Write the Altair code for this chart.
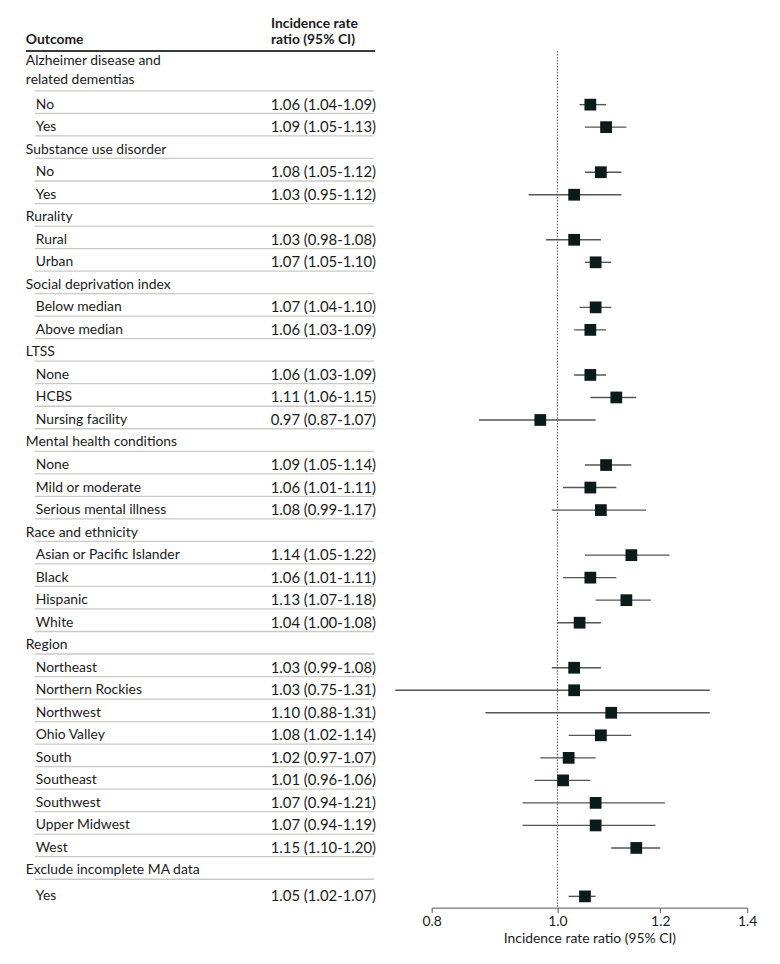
import altair as alt
import pandas as pd

# ---------------- data ----------------
row_labels = [
    "Alzheimer disease and\nrelated dementias", "No", "Yes",
    "Substance use disorder", "No", "Yes",
    "Rurality", "Rural", "Urban",
    "Social deprivation index", "Below median", "Above median",
    "LTSS", "None", "HCBS", "Nursing facility",
    "Mental health conditions", "None", "Mild or moderate", "Serious mental illness",
    "Race and ethnicity", "Asian or Pacific Islander", "Black", "Hispanic", "White",
    "Region", "Northeast", "Northern Rockies", "Northwest", "Ohio Valley", "South",
    "Southeast", "Southwest", "Upper Midwest", "West",
    "Exclude incomplete MA data", "Yes",
]
row_is_group = [
    True, False, False,
    True, False, False,
    True, False, False,
    True, False, False,
    True, False, False, False,
    True, False, False, False,
    True, False, False, False, False,
    True, False, False, False, False, False, False, False, False, False,
    True, False,
]
irr = [
    None, 1.06, 1.09,
    None, 1.08, 1.03,
    None, 1.03, 1.07,
    None, 1.07, 1.06,
    None, 1.06, 1.11, 0.97,
    None, 1.09, 1.06, 1.08,
    None, 1.14, 1.06, 1.13, 1.04,
    None, 1.03, 1.03, 1.10, 1.08, 1.02, 1.01, 1.07, 1.07, 1.15,
    None, 1.05,
]
ci_low = [
    None, 1.04, 1.05,
    None, 1.05, 0.95,
    None, 0.98, 1.05,
    None, 1.04, 1.03,
    None, 1.03, 1.06, 0.87,
    None, 1.05, 1.01, 0.99,
    None, 1.05, 1.01, 1.07, 1.00,
    None, 0.99, 0.75, 0.88, 1.02, 0.97, 0.96, 0.94, 0.94, 1.10,
    None, 1.02,
]
ci_high = [
    None, 1.09, 1.13,
    None, 1.12, 1.12,
    None, 1.08, 1.10,
    None, 1.10, 1.09,
    None, 1.09, 1.15, 1.07,
    None, 1.14, 1.11, 1.17,
    None, 1.22, 1.11, 1.18, 1.08,
    None, 1.08, 1.31, 1.31, 1.14, 1.07, 1.06, 1.21, 1.19, 1.20,
    None, 1.07,
]
x_ticks = [0.8, 1.0, 1.2, 1.4]
x_domain = [0.8, 1.4]
reference_value = 1.0
col_header_outcome = "Outcome"
col_header_irr = "Incidence rate\nratio (95% CI)"
x_title = "Incidence rate ratio (95% CI)"

# ---------------- layout ----------------
FONT = "Lato"
FS = 14
FS_VAL = 15
ROW_PX = 22.7
W, H = 770, 903
Y_DOMAIN = [-4.128, 35.65]
X_GROUP, X_ITEM, X_VALUE = 18, 28, 371
SEP_X1, SEP_X2 = 27, 369
HDR_X1, HDR_X2, HDR_IRR_X = 18, 370, 265
PLOT_RANGE = [427, 745]
HDR_LINE_Y, HDR_OUTCOME_Y, HDR_IRR_Y = -2.38, -2.85, -3.60
GROUP_LH, HDR_LH = 19, 17
SEP_OFFSET = 0.39
LAST_ROW_EXTRA = 0.15
TEXT_COLOR = "#1b1b1b"

# build table
rows = []
start = -2
n_rows = len(row_labels)
for k, (lab, grp, e, lo, hi) in enumerate(zip(row_labels, row_is_group, irr, ci_low, ci_high)):
    span = lab.count("\n") + 1
    if k == n_rows - 1:
        start += LAST_ROW_EXTRA
    pos = start + (span - 1) / 2
    rows.append(dict(
        label=lab, kind="group" if grp else "item", pos=pos,
        text_pos=pos - (span - 1) / 2 * GROUP_LH / ROW_PX,
        line_pos=pos + (span - 1) / 2 + SEP_OFFSET,
        est=e, lo=lo, hi=hi,
        txt=(f"{e:.2f} ({lo:.2f}-{hi:.2f})" if e is not None else ""),
    ))
    start += span
df = pd.DataFrame(rows)
df_sep = df.iloc[:-1]
df_est = df[df["kind"] == "item"]

yscale = alt.Scale(domain=Y_DOMAIN, reverse=True, nice=False, zero=False)
Y = lambda f: alt.Y(f, scale=yscale, axis=None)

base = alt.Chart(df)

sep = alt.Chart(df_sep).mark_rule(color="#c9cbc6", strokeWidth=1.3).encode(
    x=alt.value(SEP_X1), x2=alt.value(SEP_X2), y=Y("line_pos:Q"))

hdr_line = alt.Chart(pd.DataFrame({"y": [HDR_LINE_Y]})).mark_rule(
    color="#3a3a3a", strokeWidth=2).encode(
    x=alt.value(HDR_X1), x2=alt.value(HDR_X2), y=Y("y:Q"))

hdr_out = alt.Chart(pd.DataFrame({"y": [HDR_OUTCOME_Y], "t": [col_header_outcome]})).mark_text(
    align="left", baseline="middle", font=FONT, fontSize=FS, fontWeight="bold",
    color=TEXT_COLOR).encode(x=alt.value(X_GROUP), y=Y("y:Q"), text="t:N")

hdr_irr = alt.Chart(pd.DataFrame({"y": [HDR_IRR_Y], "t": [col_header_irr]})).mark_text(
    align="left", baseline="middle", font=FONT, fontSize=FS, fontWeight="bold",
    lineBreak="\n", lineHeight=HDR_LH, color=TEXT_COLOR).encode(
    x=alt.value(HDR_IRR_X), y=Y("y:Q"), text="t:N")

grp_txt = base.transform_filter(alt.datum.kind == "group").mark_text(
    align="left", baseline="middle", font=FONT, fontSize=FS, lineBreak="\n",
    lineHeight=GROUP_LH, color=TEXT_COLOR).encode(
    x=alt.value(X_GROUP), y=Y("text_pos:Q"), text="label:N")

item_txt = base.transform_filter(alt.datum.kind == "item").mark_text(
    align="left", baseline="middle", font=FONT, fontSize=FS, color=TEXT_COLOR).encode(
    x=alt.value(X_ITEM), y=Y("pos:Q"), text="label:N")

val_txt = base.transform_filter(alt.datum.kind == "item").mark_text(
    align="right", baseline="middle", font=FONT, fontSize=FS_VAL, color=TEXT_COLOR).encode(
    x=alt.value(X_VALUE), y=Y("pos:Q"), text="txt:N")

xscale = alt.Scale(type="log", domain=x_domain, range=PLOT_RANGE, nice=False)
xaxis = alt.Axis(values=x_ticks, format=".1f", title=x_title, grid=False,
                 labelFlush=False, labelOverlap=False,
                 domainColor="#555555", tickColor="#555555", tickSize=5,
                 labelFont=FONT, labelFontSize=FS, labelColor=TEXT_COLOR,
                 labelPadding=2, titleFont=FONT, titleFontSize=FS,
                 titleFontWeight="normal", titleColor=TEXT_COLOR, titlePadding=3)

ci = alt.Chart(df_est).mark_rule(color="#555555", strokeWidth=1.4).encode(
    x=alt.X("lo:Q", scale=xscale, axis=xaxis), x2="hi:Q", y=Y("pos:Q"))

ref = alt.Chart(pd.DataFrame({"x": [reference_value], "y": [HDR_LINE_Y], "y2": [Y_DOMAIN[1]]})).mark_rule(
    color="#666666", strokeWidth=1.2, strokeDash=[1.5, 1.5]).encode(
    x=alt.X("x:Q"), y=Y("y:Q"), y2="y2:Q")

pts = alt.Chart(df_est).mark_square(size=140, color="#0b1a1b", opacity=1).encode(
    x=alt.X("est:Q"), y=Y("pos:Q"))

chart = alt.layer(sep, hdr_line, hdr_out, hdr_irr, grp_txt, item_txt, val_txt,
                  ref, ci, pts).properties(
    width=W, height=H, padding=0, background="white"
).configure_view(stroke=None)

chart.save("out.html", embed_options={"renderer": "svg", "actions": False})
